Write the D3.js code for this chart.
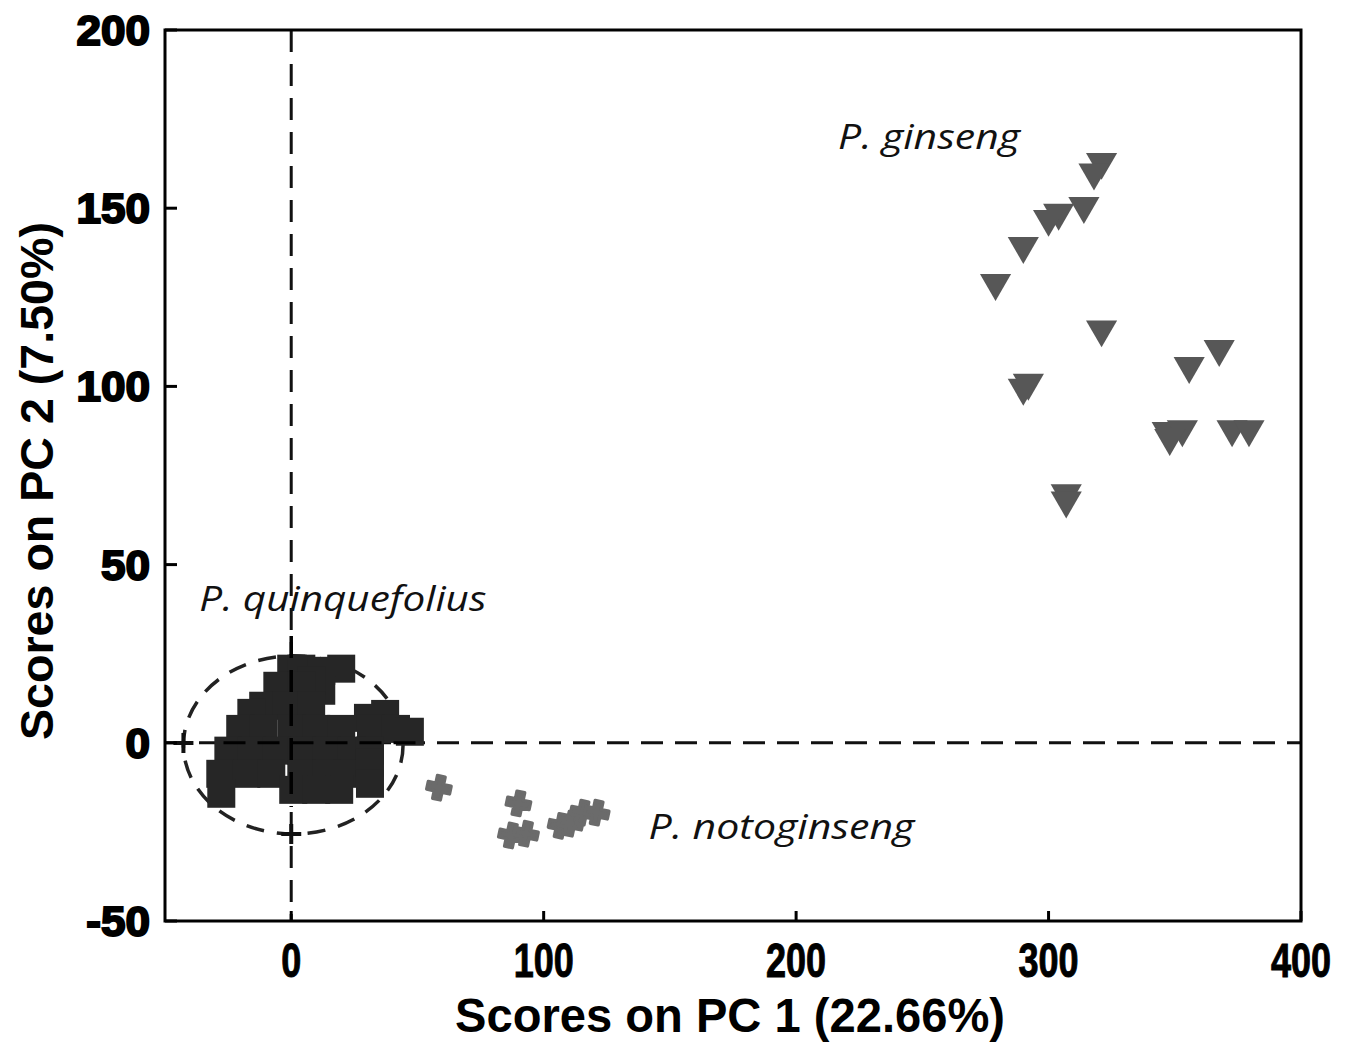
<!DOCTYPE html>
<html lang="en">
<head>
<meta charset="UTF-8">
<title>PCA scores</title>
<script src="https://d3js.org/d3.v7.min.js"></script>
<style>
  body { margin: 0; background: #fff; }
  svg { display: block; }
</style>
</head>
<body>
<div id="chart"></div>
<script>
// Axis ticks
var xTicks = [0, 100, 200, 300, 400];
var yTicks = [-50, 0, 50, 100, 150, 200];

// P. quinquefolius scores (squares)
var quinqueX = [0, 4, 19.8, 11.9, 11.9, 7.9, -5.5, 4, -11.1, -2, 7.9, 30.4, 37.2,
  -15.8, -20.2, -11.1, 0, 9.9, 19.8, 31.6, 41.5, 47, -24.9, -15.8, -5.9, 4, 13.8,
  23.7, 31.2, -28.1, -17.8, -7.9, 4, 13.8, 21.7, 31.2, 31.2, -27.7, 0.8, 9.9, 19];
var quinqueY = [20.8, 20.8, 20.8, 20.2, 14.6, 17.4, 16, 16, 10.4, 10.4, 10.4, 7, 8.1,
  8.4, 3.9, 3.9, 3.9, 3.9, 3.9, 3.9, 3.9, 3.1, -2.2, -2.2, -2.2, -2.2, -2.2,
  -2.2, -2.2, -8.7, -8.7, -8.7, -8.7, -8.7, -8.7, -5.6, -11.5, -14.3, -13.2, -13.2, -13.2];

// P. notoginseng scores
var notoX = [58.5, 90, 87, 93, 106.7, 110.7, 115.4, 121];
var notoY = [-12.6, -17, -26, -25.5, -23.3, -22.7, -19.6, -19.6];

// P. ginseng scores (triangles)
var ginsengX = [321, 318, 314, 304, 300, 290, 279, 321, 292, 290, 367.6,
  355.7, 347, 353, 348, 372.7, 379.4, 307, 307];
var ginsengY = [163, 160, 150.6, 148.7, 147, 139.4, 129, 116, 101, 99.6,
  110.5, 105.7, 87.5, 88, 85.5, 88, 88, 70, 68];

// Confidence ellipse for P. quinquefolius
var ellipseCenter = [0.8, -0.6];
var ellipseRadii = [43.5, 25];

var margin = { top: 30, right: 60, bottom: 125, left: 165 },
    width = 1361 - margin.left - margin.right,
    height = 1046 - margin.top - margin.bottom;

var svg = d3.select("#chart")
  .append("svg")
  .attr("width", 1361)
  .attr("height", 1046);

var g = svg.append("g")
  .attr("transform", "translate(" + margin.left + "," + margin.top + ")");

var x = d3.scaleLinear().domain([-50, 400]).range([0, width]);
var y = d3.scaleLinear().domain([-50, 200]).range([height, 0]);

// Dashed zero lines
g.append("line")
  .attr("x1", x(0)).attr("x2", x(0))
  .attr("y1", 0).attr("y2", height)
  .attr("stroke", "#111").attr("stroke-width", 3)
  .attr("stroke-dasharray", "22,12");
g.append("line")
  .attr("x1", 0).attr("x2", width)
  .attr("y1", y(0)).attr("y2", y(0))
  .attr("stroke", "#111").attr("stroke-width", 3)
  .attr("stroke-dasharray", "22,12");

// Ellipse
var cx = x(ellipseCenter[0]), cy = y(ellipseCenter[1]);
var rx = x(ellipseRadii[0]) - x(0), ry = y(0) - y(ellipseRadii[1]);
g.append("ellipse")
  .attr("cx", cx).attr("cy", cy)
  .attr("rx", rx).attr("ry", ry)
  .attr("fill", "none")
  .attr("stroke", "#222").attr("stroke-width", 3.5)
  .attr("stroke-dasharray", "18,13");

// Crosses at the ends of the ellipse
var crossPts = [[cx - rx, cy - 2], [cx - 2, cy + ry]];
g.selectAll(".ecross")
  .data(crossPts)
  .enter().append("path")
  .attr("class", "ecross")
  .attr("d", function(d) {
    return "M" + (d[0] - 10) + "," + d[1] + "H" + (d[0] + 10) +
      "M" + d[0] + "," + (d[1] - 10) + "V" + (d[1] + 10);
  })
  .attr("stroke", "#111").attr("stroke-width", 4);

// Squares
var sq = 28;
g.selectAll(".quinque")
  .data(d3.range(quinqueX.length))
  .enter().append("rect")
  .attr("class", "quinque")
  .attr("x", function(i) { return x(quinqueX[i]) - sq / 2; })
  .attr("y", function(i) { return y(quinqueY[i]) - sq / 2; })
  .attr("width", sq).attr("height", sq)
  .attr("fill", "#262626");

// The dashed lines show through the black block in the original
g.append("line")
  .attr("x1", x(0)).attr("x2", x(0))
  .attr("y1", y(30)).attr("y2", y(-18))
  .attr("stroke", "#000").attr("stroke-width", 3.5)
  .attr("stroke-dasharray", "22,12");
g.append("line")
  .attr("x1", x(-30)).attr("x2", x(50))
  .attr("y1", y(0)).attr("y2", y(0))
  .attr("stroke", "#000").attr("stroke-width", 3)
  .attr("stroke-dasharray", "22,12")
  .attr("stroke-dashoffset", -8);

// Notoginseng blobs
var cross = d3.symbol().type(d3.symbolCross).size(300);
g.selectAll(".noto")
  .data(d3.range(notoX.length))
  .enter().append("path")
  .attr("class", "noto")
  .attr("d", cross)
  .attr("transform", function(i) {
    return "translate(" + x(notoX[i]) + "," + y(notoY[i]) + ") rotate(12)";
  })
  .attr("fill", "#6b6b6b")
  .attr("stroke", "#6b6b6b").attr("stroke-width", 3.5).attr("stroke-linejoin", "round");

// Ginseng triangles (pointing down)
var tri = d3.symbol().type(d3.symbolTriangle).size(420);
g.selectAll(".ginseng")
  .data(d3.range(ginsengX.length))
  .enter().append("path")
  .attr("class", "ginseng")
  .attr("d", tri)
  .attr("transform", function(i) {
    return "translate(" + x(ginsengX[i]) + "," + y(ginsengY[i]) + ") rotate(180)";
  })
  .attr("fill", "#575757");

// Frame
g.append("rect")
  .attr("width", width).attr("height", height)
  .attr("fill", "none")
  .attr("stroke", "#000").attr("stroke-width", 3);

// Ticks (inward)
g.selectAll(".ytick")
  .data(yTicks)
  .enter().append("line")
  .attr("x1", 0).attr("x2", 12)
  .attr("y1", function(d) { return y(d); })
  .attr("y2", function(d) { return y(d); })
  .attr("stroke", "#000").attr("stroke-width", 3);
g.selectAll(".xtick")
  .data(xTicks)
  .enter().append("line")
  .attr("x1", function(d) { return x(d); })
  .attr("x2", function(d) { return x(d); })
  .attr("y1", height).attr("y2", height - 10)
  .attr("stroke", "#000").attr("stroke-width", 3);

// Tick labels
g.selectAll(".ylab")
  .data(yTicks)
  .enter().append("text")
  .attr("transform", function(d) {
    return "translate(-15," + (y(d) + 15) + ") scale(1.05,1)";
  })
  .attr("text-anchor", "end")
  .attr("font-family", "Liberation Sans, Arial, sans-serif")
  .attr("font-weight", "bold")
  .attr("font-size", 42)
  .attr("stroke", "#000").attr("stroke-width", 2)
  .text(function(d) { return d; });

g.selectAll(".xlab")
  .data(xTicks)
  .enter().append("text")
  .attr("transform", function(d) {
    return "translate(" + x(d) + "," + (height + 56) + ") scale(0.75,1)";
  })
  .attr("text-anchor", "middle")
  .attr("font-family", "Liberation Sans, Arial, sans-serif")
  .attr("font-weight", "bold")
  .attr("font-size", 48)
  .attr("stroke", "#000").attr("stroke-width", 1)
  .text(function(d) { return d; });

// Axis titles
svg.append("text")
  .attr("x", 455).attr("y", 1032)
  .attr("textLength", 550).attr("lengthAdjust", "spacingAndGlyphs")
  .attr("font-family", "Liberation Sans, Arial, sans-serif")
  .attr("font-weight", "bold")
  .attr("font-size", 48)
  .text("Scores on PC 1 (22.66%)");

svg.append("text")
  .attr("transform", "translate(53,740) rotate(-90)")
  .attr("textLength", 518).attr("lengthAdjust", "spacingAndGlyphs")
  .attr("font-family", "Liberation Sans, Arial, sans-serif")
  .attr("font-weight", "bold")
  .attr("font-size", 46)
  .text("Scores on PC 2 (7.50%)");

// Group labels
var labels = [
  { text: "P. quinquefolius", px: -36.4, py: 37, w: 287 },
  { text: "P. ginseng", px: 216.6, py: 166.6, w: 182 },
  { text: "P. notoginseng", px: 141.5, py: -26.9, w: 266 }
];
g.selectAll(".glab")
  .data(labels)
  .enter().append("text")
  .attr("x", function(d) { return x(d.px); })
  .attr("y", function(d) { return y(d.py); })
  .attr("textLength", function(d) { return d.w; })
  .attr("lengthAdjust", "spacingAndGlyphs")
  .attr("font-family", "Open Sans, Noto Sans, sans-serif")
  .attr("font-style", "italic")
  .attr("font-size", 34)
  .attr("fill", "#111")
  .text(function(d) { return d.text; });
</script>
</body>
</html>
